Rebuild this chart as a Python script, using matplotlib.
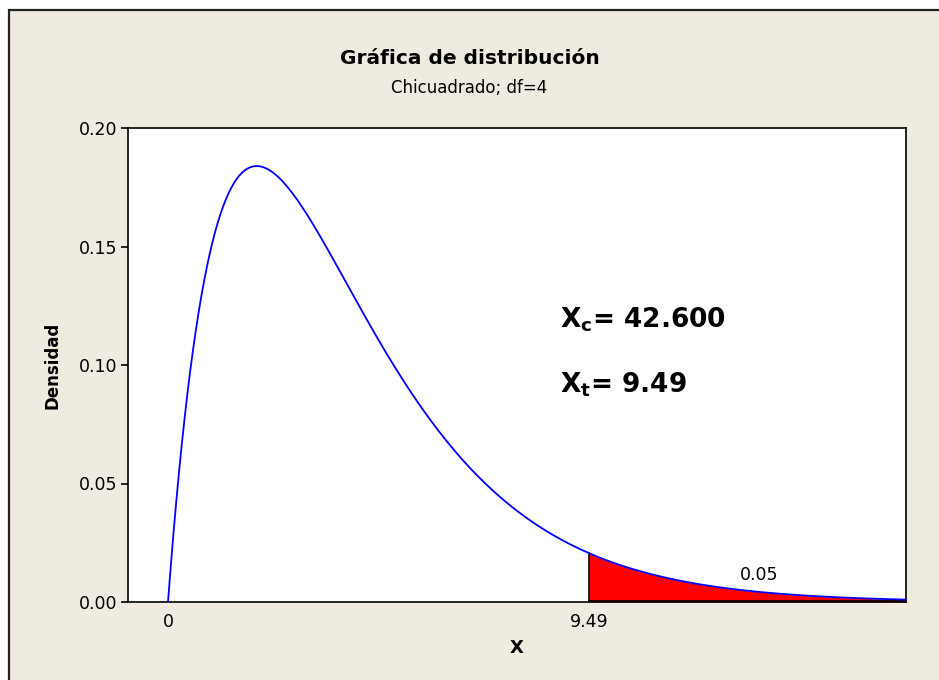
import math
import numpy as np
import matplotlib
matplotlib.use("Agg")
import matplotlib.pyplot as plt
from matplotlib.patches import Rectangle

# datos de la gráfica
df = 4
x_critico = 9.49
alfa = 0.05
x_calculado = 42.600
x_ticks = [0, x_critico]
x_tick_labels = ["0", "9.49"]
y_ticks = [0.00, 0.05, 0.10, 0.15, 0.20]
y_tick_labels = ["0.00", "0.05", "0.10", "0.15", "0.20"]

x_min, x_max = -0.902, 16.64


# densidad chi-cuadrado
def densidad(x, k):
    return x ** (k / 2 - 1) * np.exp(-x / 2) / (2 ** (k / 2) * math.gamma(k / 2))


plt.rcParams['font.family'] = ['DejaVu Sans']
plt.rcParams['mathtext.fontset'] = 'dejavusans'
fondo = "#efebe1"

fig = plt.figure(figsize=(9.39, 6.8), dpi=100, facecolor="white")
marco = Rectangle((9 / 939, -0.1), 1.2, 670 / 680 + 0.1, transform=fig.transFigure,
                  facecolor=fondo, edgecolor="#222222", linewidth=1.6, zorder=-10)
fig.patches.append(marco)

ax = fig.add_axes([128 / 939, 78 / 680, 778 / 939, 474 / 680])
ax.set_facecolor("white")

x = np.linspace(0, x_max, 800)
y = densidad(x, df)
ax.plot(x, y, color="#0000ff", linewidth=1.3, zorder=3)

# zona de rechazo
xs = np.linspace(x_critico, x_max, 300)
ax.fill_between(xs, 0, densidad(xs, df), color="red", linewidth=0, zorder=2)
ax.plot([x_critico, x_critico], [0, densidad(x_critico, df)], color="black", linewidth=1.2, zorder=2)
ax.plot([x_critico, x_max], [0.0003, 0.0003], color="black", linewidth=1.2, zorder=2)
ax.text(13.32, 0.0115, "0.05", fontsize=12.5, ha="center", va="center")

ax.set_xlim(x_min, x_max)
ax.set_ylim(0, 0.20)
ax.set_xticks(x_ticks)
ax.set_xticklabels(x_tick_labels, fontsize=12.5)
ax.set_yticks(y_ticks)
ax.set_yticklabels(y_tick_labels, fontsize=12.5)
ax.tick_params(axis="x", length=0, pad=8)
ax.tick_params(axis="y", length=5, width=1.2, direction="out", pad=3)
for s in ax.spines.values():
    s.set_linewidth(1.2)

ax.set_xlabel("X", fontsize=13, fontweight="bold", labelpad=6)
ax.set_ylabel("Densidad", fontsize=12, fontweight="bold", labelpad=12)

fig.text(0.5, 622 / 680, "Gráfica de distribución", fontsize=14.5, fontweight="bold",
         ha="center", va="center")
fig.text(0.5, 592 / 680, "Chicuadrado; df=4", fontsize=12, ha="center", va="center")

ax.text(8.83, 0.1157, r"X$_{\mathbf{c}}$= %.3f" % x_calculado, fontsize=19,
        fontweight="bold", ha="left", va="baseline")
ax.text(8.83, 0.0882, r"X$_{\mathbf{t}}$= %.2f" % x_critico, fontsize=19,
        fontweight="bold", ha="left", va="baseline")

fig.savefig("out.png", dpi=100, facecolor=fig.get_facecolor())
